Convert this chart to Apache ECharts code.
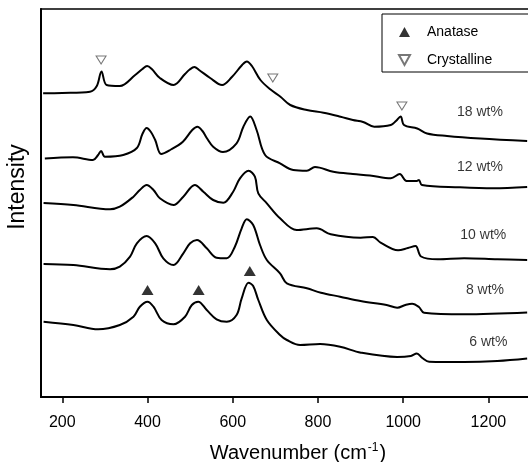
<!DOCTYPE html>
<html>
<head>
<meta charset="utf-8">
<script src="https://cdn.jsdelivr.net/npm/echarts@6/dist/echarts.min.js"></script>
<style>
    html, body { margin: 0; padding: 0; background: #fff; }
    #mychart { width: 528px; height: 462px; }
</style>
</head>
<body>
<div id="mychart"></div>
<script>
// wavenumber (cm-1), intensity (offset, arbitrary units)
var wt18 = [[155, 303.7], [200, 304], [265, 305.3], [281, 311], [292, 325.5], [304, 312], [335, 311], [371, 322], [388, 328], [399, 331],
    [410, 328], [429, 319], [461, 312], [488, 323], [499, 327.5], [510, 330], [521, 327], [547, 319], [575, 312], [598, 320],
    [622, 332], [633, 335.5], [645, 331], [665, 317], [688, 307.7], [712, 300.3], [735, 292], [774, 287], [813, 284.3], [853, 280.3],
    [882, 277], [906, 275], [932, 270.3], [971, 272], [983, 276], [994, 280.5], [1002, 272], [1033, 268.5], [1056, 263.5], [1103, 261],
    [1181, 258.5], [1291, 256]]
var wt12 = [[159, 238.5], [225, 239.7], [272, 237], [284, 242], [291, 246], [300, 240.3], [343, 242], [375, 249], [388, 263], [398, 269],
    [408, 265], [418, 257], [432, 243], [453, 247], [483, 255.3], [505, 267], [517, 270.3], [529, 266], [539, 259], [554, 250.3],
    [577, 245], [609, 253.7], [625, 270.3], [641, 280.5], [656, 267], [676, 242], [711, 233.7], [742, 227], [774, 226.3], [793, 230],
    [836, 225.3], [882, 223], [922, 221.5], [971, 218.7], [992, 223], [1008, 216], [1032, 216], [1037, 217], [1044, 212], [1133, 209.7],
    [1211, 208.7], [1291, 210]]
var wt10 = [[156, 194], [226, 192], [312, 187.7], [335, 190.3], [367, 200.3], [382, 207], [398, 212], [414, 207], [429, 198.7], [461, 192],
    [484, 200.3], [511, 212], [531, 205.3], [554, 197], [578, 194.3], [601, 205.3], [617, 218.7], [637, 226.3], [652, 220.3], [660, 203.7],
    [680, 193.7], [711, 178.7], [750, 167], [797, 168.7], [830, 162.7], [900, 159.3], [929, 160], [947, 154.3], [988, 146.7], [1011, 149],
    [1029, 151], [1042, 140.5], [1081, 137.7], [1143, 138.7], [1221, 137.7], [1291, 137]]
var wt8 = [[156, 133], [226, 132], [312, 127.7], [335, 130.3], [359, 140.3], [375, 153.7], [398, 161], [418, 153.7], [437, 138.7], [461, 132],
    [484, 143.7], [500, 153.7], [516, 157], [539, 148.7], [562, 139.3], [586, 138.7], [605, 150.3], [621, 168.7], [633, 177.7], [648, 172],
    [664, 152], [680, 137], [711, 123.7], [727, 113.7], [774, 108.7], [807, 104.3], [852, 100.3], [900, 96], [961, 92], [986, 89.3],
    [1005, 92], [1021, 93.3], [1037, 90], [1049, 84.3], [1143, 82.7], [1291, 84.5]]
var wt6 = [[156, 75.3], [226, 72], [284, 67.7], [335, 72], [367, 80.3], [382, 90.3], [400, 95.3], [414, 90.3], [433, 77], [461, 72.7],
    [488, 80.3], [504, 92], [519, 95.3], [539, 87], [562, 77.7], [586, 75.3], [609, 82], [621, 98.7], [637, 114.3], [648, 111],
    [660, 97], [680, 77], [711, 62], [727, 57], [758, 52], [805, 53], [852, 50.3], [901, 44.3], [986, 40], [1018, 41],
    [1032, 43.5], [1045, 39], [1061, 35.3], [1143, 35], [1221, 36], [1291, 38.5]]

// peak markers
var anatase = [[400, 107], [520, 107], [640, 126]]
var crystalline = [[291, 337], [694, 319], [997, 291]]

// curve labels
var labelNames = ['18 wt%', '12 wt%', '10 wt%', '8 wt%', '6 wt%']
var labelPos = [[1180, 285.3], [1180, 230.3], [1188, 162], [1192, 107], [1200, 55.3]]

var xTicks = [200, 400, 600, 800, 1000, 1200]

var font = 'Liberation Sans, Arial, sans-serif'

// open triangle pointing down
var downTriangle = 'path://M0,0L10,0L5,9Z'

function lineSeries(name, data) {
    return {
        name: name,
        type: 'line',
        data: data,
        showSymbol: false,
        smooth: 0.35,
        lineStyle: { color: '#000', width: 2 },
        silent: true,
    }
}

var labelData = []
for (var i = 0; i < labelNames.length; i++) {
    labelData.push({ name: labelNames[i], value: labelPos[i] })
}

var myChart = echarts.init(document.getElementById('mychart'))

var option = {
    animation: false,
    backgroundColor: '#fff',
    textStyle: { fontFamily: font },
    grid: {
        left: 41,
        top: 9,
        right: -3,
        bottom: 65,
        outerBoundsMode: 'none',
        containLabel: false,
        show: true,
        borderColor: '#000',
        borderWidth: 1.5,
    },
    legend: {
        data: ['Anatase', 'Crystalline'],
        orient: 'vertical',
        left: 382,
        top: 14,
        itemWidth: 11,
        itemHeight: 10,
        itemGap: 14,
        padding: [11, 50, 5, 16],
        borderColor: '#000',
        borderWidth: 1,
        backgroundColor: '#fff',
        textStyle: { color: '#000', fontSize: 14, fontFamily: font, padding: [0, 0, 0, 12] },
    },
    xAxis: {
        type: 'value',
        min: 150,
        max: 1300,
        axisLine: { show: true, lineStyle: { color: '#000', width: 2 } },
        axisTick: { show: true, customValues: xTicks, length: 6, lineStyle: { color: '#000', width: 1.5 } },
        axisLabel: {
            customValues: xTicks,
            color: '#000',
            fontSize: 16,
            margin: 18,
            fontFamily: font,
            formatter: function (v) {
                return String(v)
            },
        },
        splitLine: { show: false },
        name: 'Wavenumber (cm{sup|-1})',
        nameLocation: 'middle',
        nameGap: 45,
        nameTextStyle: {
            color: '#000',
            fontSize: 20,
            fontFamily: font,
            padding: [0, 0, 0, 24],
            rich: {
                sup: { fontSize: 12, verticalAlign: 'top', padding: [0, 1, 10, 1], fontFamily: font, color: '#000' },
            },
        },
    },
    yAxis: {
        type: 'value',
        min: 0,
        max: 388,
        axisLine: { show: true, lineStyle: { color: '#000', width: 2 } },
        axisTick: { show: false },
        axisLabel: { show: false },
        splitLine: { show: false },
        name: 'Intensity',
        nameLocation: 'middle',
        nameGap: 12,
        nameTextStyle: { color: '#000', fontSize: 23, fontFamily: font, padding: [0, 0, 0, 32] },
    },
    series: [
        lineSeries('18', wt18),
        lineSeries('12', wt12),
        lineSeries('10', wt10),
        lineSeries('8', wt8),
        lineSeries('6', wt6),
        {
            name: 'Anatase',
            type: 'scatter',
            data: anatase,
            symbol: 'triangle',
            symbolSize: [12, 10],
            itemStyle: { color: '#000' },
            silent: true,
        },
        {
            name: 'Crystalline',
            type: 'scatter',
            data: crystalline,
            symbol: downTriangle,
            symbolSize: [10, 8],
            itemStyle: { color: '#fff', borderColor: '#555', borderWidth: 1 },
            silent: true,
        },
        {
            name: 'labels',
            type: 'scatter',
            data: labelData,
            symbolSize: 0,
            silent: true,
            label: {
                show: true,
                position: 'inside',
                formatter: '{b}',
                color: '#000',
                fontSize: 14,
                fontFamily: font,
            },
        },
    ],
}

myChart.setOption(option)
</script>
</body>
</html>
